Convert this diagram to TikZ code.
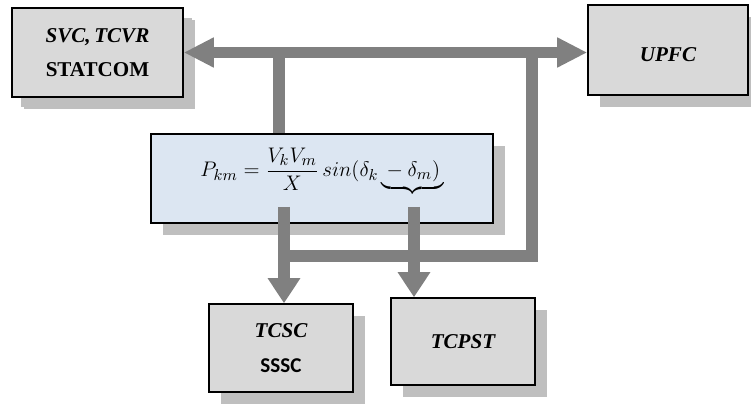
\documentclass[tikz,border=0pt]{standalone}
\usepackage{amsmath}
\usepackage{fontspec}
\setmainfont{Liberation Serif}[BoldFont={* Bold}, BoldItalicFont={* Bold Italic}]
\newfontfamily\boxsans{Carlito}
\usepackage{tikz}
\usetikzlibrary{arrows.meta,shadows}
\definecolor{bargray}{RGB}{128,128,128}
\definecolor{boxgray}{RGB}{217,217,217}
\definecolor{shadegray}{RGB}{191,191,191}
\definecolor{eqblue}{RGB}{220,230,242}

\begin{document}
\begin{tikzpicture}[x=0.02cm, y=-0.02cm, font=\fontsize{12}{14}\selectfont\bfseries,
  box/.style={draw, line width=0.9pt, fill=boxgray, inner sep=0pt, align=center,
    minimum width=2.88cm, minimum height=1.76cm,
    drop shadow={shadow xshift=0.24cm, shadow yshift=-0.24cm, fill=shadegray, opacity=1}},
  bar/.style={draw=bargray, line width=0.23cm, line join=miter},
  arr/.style={bar, -{Triangle[length=0.5cm, width=0.62cm]}}]
\useasboundingbox (0,0) rectangle (751,405);
\node[box, minimum width=3.42cm, minimum height=1.78cm, drop shadow={shadow xshift=0.18cm, shadow yshift=-0.2cm, fill=shadegray, opacity=1}] (svc) at (97.5,52.5) {\itshape SVC,\,TCVR\\[5pt] STATCOM};
\node[box, minimum width=3.2cm, minimum height=1.8cm, text height=13.5pt, text depth=0pt] (upfc) at (668,50) {\itshape UPFC};
\node[box, fill=eqblue, minimum width=6.84cm, minimum height=1.78cm, font=\fontsize{13}{15}\selectfont] (eq) at (322,178.5)
  {$P_{km} = \dfrac{V_kV_m}{X}\,sin(\delta_k \underbrace{{}-\delta_m)\,}_{}$};
\node[box] (tcsc) at (281,348) {\itshape TCSC\\[6pt] \boxsans SSSC};
\node[box, minimum height=1.74cm] (tcpst) at (463,341.5) {\itshape TCPST};
% bus to the shunt and series-shunt devices
\coordinate (tap) at (279,52);
\coordinate (loop) at (532,52);
\coordinate (brace) at (414,207);
\coordinate (sum) at (284,207);
\draw[bar] (tap) -- (tap |- eq.north);
\draw[bar] (loop) -- (loop |- 0,256) -- (sum |- 0,256);
\draw[arr, {Triangle[length=0.6cm, width=0.56cm]}-{Triangle[length=0.6cm, width=0.56cm]}] (svc.east) -- (svc.east -| upfc.west);
\draw[arr] (sum) -- (sum |- tcsc.north);
\draw[arr] (brace) -- (brace |- tcpst.north);
\end{tikzpicture}
\end{document}
